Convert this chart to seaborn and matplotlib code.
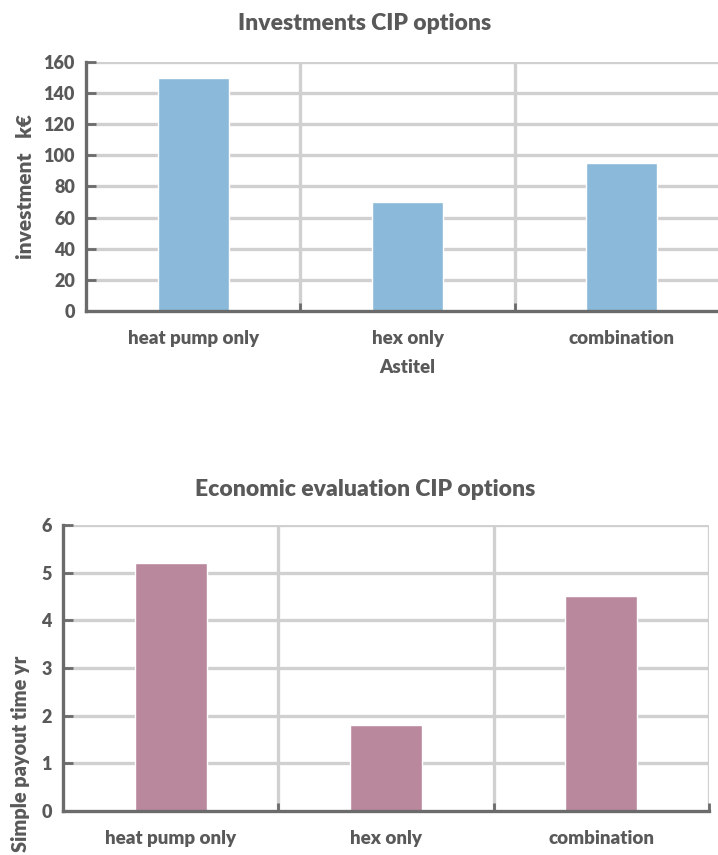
import matplotlib
matplotlib.use("Agg")
import matplotlib.pyplot as plt
import seaborn as sns
import pandas as pd

options = ["heat pump only", "hex only", "combination"]
investment_keur = [150, 70, 95]
payout_years = [5.2, 1.8, 4.5]
invest_ticks = [0, 20, 40, 60, 80, 100, 120, 140, 160]
payout_ticks = [0, 1, 2, 3, 4, 5, 6]

sns.set_theme(style="white")
plt.rcParams["font.family"] = ["Lato", "DejaVu Sans"]

TEXT = "#595959"
SPINE = "#6b6b6b"
GRID = "#d0d0d0"
BLUE = "#8ab9d9"
MAUVE = "#ba889d"
W = "heavy"

fig = plt.figure(figsize=(7.18, 8.55), dpi=100)
ax1 = fig.add_axes([0.1198, 0.6363, 0.8955, 0.2912])
ax2 = fig.add_axes([0.0877, 0.0515, 0.8997, 0.3345])


def style_axes(ax, ticks, right_border):
    ax.set_xlim(-0.5, 2.5)
    ax.set_ylim(ticks[0], ticks[-1])
    ax.set_yticks(ticks)
    ax.set_yticklabels([str(t) for t in ticks])
    ax.set_xticks(range(len(options)))
    ax.set_xticklabels(options)
    seps = [0.5, 1.5] + ([2.5] if right_border else [])
    for t in ticks[1:]:
        ax.axhline(t, color=GRID, lw=2.4, zorder=0)
    for s in seps:
        ax.axvline(s, color=GRID, lw=2.4, zorder=0)
    for side in ["top", "right"]:
        ax.spines[side].set_visible(False)
    for side in ["left", "bottom"]:
        ax.spines[side].set_color(SPINE)
        ax.spines[side].set_linewidth(2.4)
    ax.tick_params(axis="y", direction="in", length=7, width=2, color=SPINE,
                   labelsize=13, labelcolor=TEXT, pad=8, left=True)
    ax.tick_params(axis="x", which="major", length=0, labelsize=13.5,
                   labelcolor=TEXT, pad=14)
    ax.set_xticks([0.5, 1.5, 2.5] if right_border else [0.5, 1.5], minor=True)
    ax.tick_params(axis="x", which="minor", direction="in", length=6, width=2,
                   color=SPINE, bottom=True)
    for lab in ax.get_xticklabels() + ax.get_yticklabels():
        lab.set_fontweight(W)


df1 = pd.DataFrame({"option": options, "value": investment_keur})
sns.barplot(data=df1, x="option", y="value", color=BLUE, width=0.33,
            saturation=1, ax=ax1, zorder=2)
style_axes(ax1, invest_ticks, right_border=False)
ax1.set_ylabel("investment   k€", fontsize=15, fontweight=W, color=TEXT,
               labelpad=6)
ax1.set_xlabel("Astitel", fontsize=13.5, fontweight=W, color=TEXT,
               labelpad=8)
fig.text(0.508, 0.973, "Investments CIP options", ha="center", va="center",
         fontsize=16.5, fontweight=W, color=TEXT)

df2 = pd.DataFrame({"option": options, "value": payout_years})
sns.barplot(data=df2, x="option", y="value", color=MAUVE, width=0.335,
            saturation=1, ax=ax2, zorder=2)
style_axes(ax2, payout_ticks, right_border=True)
ax2.set_ylabel("Simple payout time yr", fontsize=14.3, fontweight=W,
               color=TEXT, labelpad=8)
ax2.yaxis.label.set_y(0.2)
ax2.set_xlabel("")
fig.text(0.508, 0.427, "Economic evaluation CIP options", ha="center",
         va="center", fontsize=16.5, fontweight=W, color=TEXT)

fig.savefig("out.png", dpi=100)
